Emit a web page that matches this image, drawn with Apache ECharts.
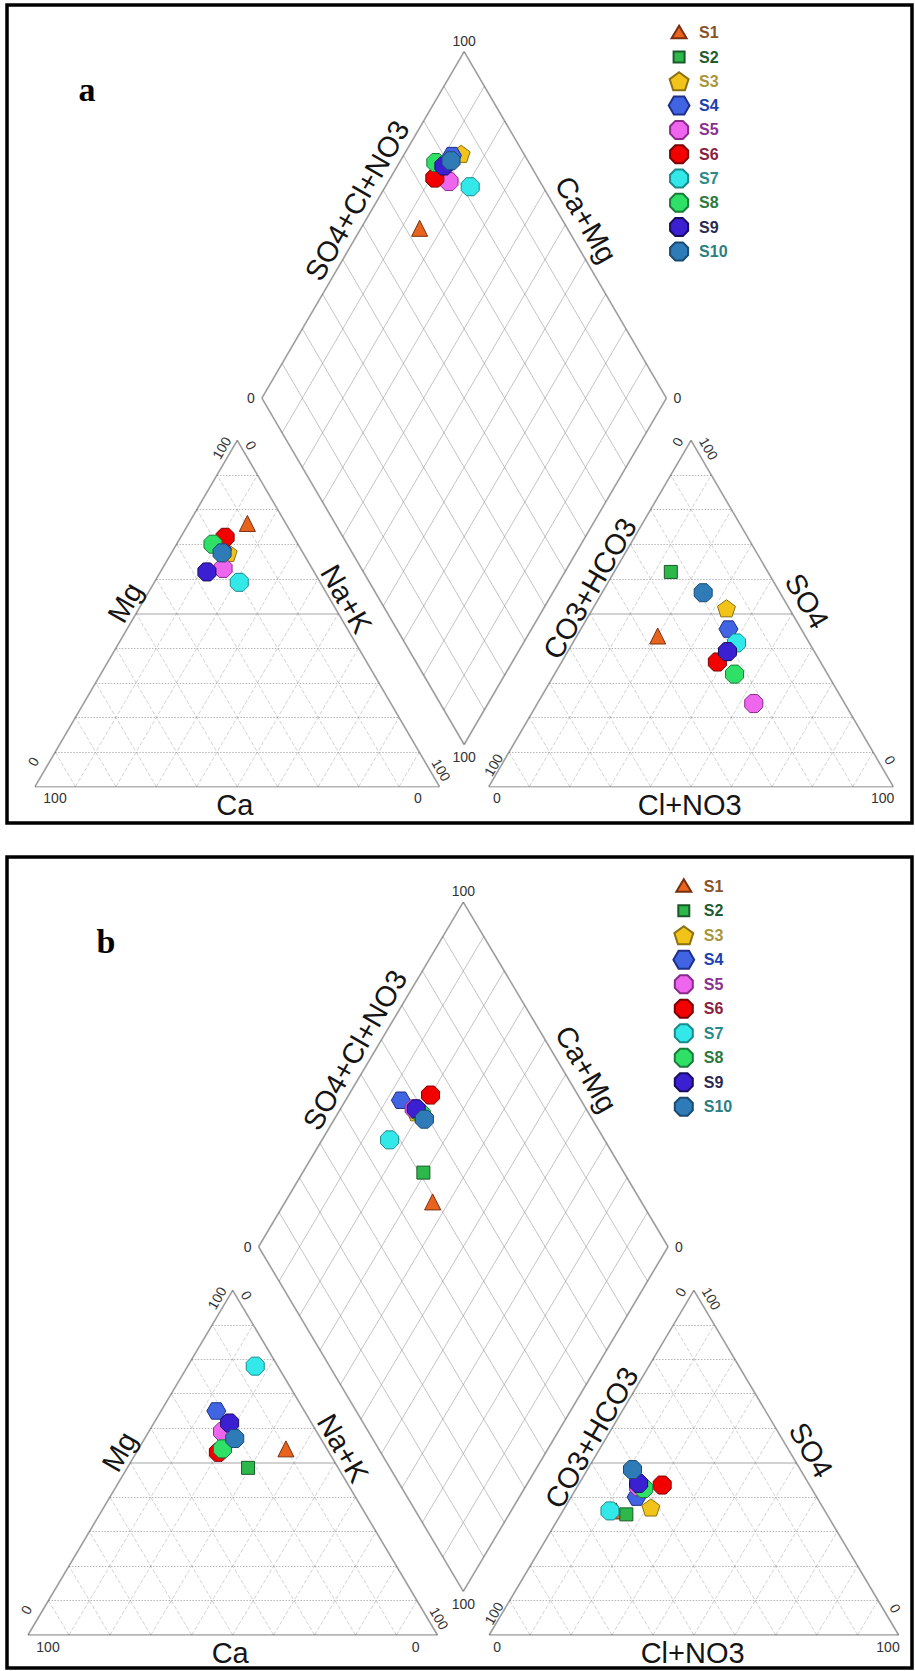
<!DOCTYPE html>
<html><head><meta charset="utf-8">
<script src="https://cdn.jsdelivr.net/npm/echarts@6/dist/echarts.min.js"></script>
<style>html,body{margin:0;padding:0;background:#fff}#c{width:915px;height:1671px}</style>
</head><body><div id="c"></div>
<script>
// ---------------- DATA ----------------
const samples = ['S1','S2','S3','S4','S5','S6','S7','S8','S9','S10'];
// Panel a – cations (% meq/L)
const aCa   = [9.5, 19, 18.5, 19.5, 22, 17, 20, 21, 26.5, 20];
const aMg   = [76, 69.5, 67.5, 68.5, 63, 72, 59, 70, 62, 67.5];
const aNaK  = [14.5, 11.5, 14, 12, 15, 11, 21, 9, 11.5, 12.5];
// Panel a – anions (% meq/L)
const aHCO3 = [36.5, 24, 15.5, 18, 22.5, 25.5, 18, 23, 21.5, 19];
const aSO4  = [43.5, 62, 51.5, 45.5, 24, 36, 41.5, 32.5, 39, 56];
const aCl   = [20, 14, 33, 36.5, 53.5, 38.5, 40.5, 44.5, 39.5, 25];
// Panel b – cations
const bCa   = [10, 22, 23, 21.5, 23, 27, 5.5, 25.5, 20, 21];
const bMg   = [54, 48.5, 58, 65, 59, 53, 78, 54, 61.5, 57];
const bNaK  = [36, 29.5, 19, 13.5, 18, 20, 16.5, 20.5, 18.5, 22];
// Panel b – anions
const bHCO3 = [51, 49, 42, 44, 42, 36, 52.5, 41, 41.5, 41];
const bSO4  = [36, 35, 37, 40, 43, 43.5, 36, 42.5, 44, 48];
const bCl   = [13, 16, 21, 16, 15, 20.5, 11.5, 16.5, 14.5, 11];
// Tick labels
const tickLo = '0', tickHi = '100';
const panelTags = ['a', 'b'];

// ---------------- STYLE ----------------
const fills   = ['#E8641E','#2DB84A','#F2C41A','#4165E2','#EE66EE','#F20000','#33E8E8','#2EE066','#3A20D0','#2E7BB8'];
const strokes = ['#7a3010','#1a5a2a','#8a7010','#1f2f8a','#8a2a8a','#7a0000','#1a8a8a','#1a7a3a','#180c60','#1a4a70'];
const txtCols = ['#8a5228','#1f5c2f','#a8963a','#2040b0','#8a3090','#8a2040','#2a8a8a','#2a7a40','#2a2a50','#2a8080'];
const octagon = 'path://M3.83,-9.24L9.24,-3.83L9.24,3.83L3.83,9.24L-3.83,9.24L-9.24,3.83L-9.24,-3.83L-3.83,-9.24Z';
const symbols = ['triangle','rect','path://M0,-10L9.51,-3.09L5.88,8.09L-5.88,8.09L-9.51,-3.09Z',
  'path://M-10,0L-5,-8.66L5,-8.66L10,0L5,8.66L-5,8.66Z', octagon, octagon, octagon, octagon, octagon, octagon];
const sizes = [16, 13, 18, 19, 18, 18, 18, 18, 18, 18];
// legend icons (padded so small shapes stay small)
const legIcons = ['path://M-9,-9M9,9M-7.5,5.5L7.5,5.5L0,-7Z','path://M-9,-9M9,9M-5.5,-5.5L5.5,-5.5L5.5,5.5L-5.5,5.5Z',
  symbols[2], symbols[3], octagon, octagon, octagon, octagon, octagon, octagon];

const panels = [
  {cat:[aCa,aMg,aNaK], an:[aHCO3,aSO4,aCl], g:12.19, left:35, width:858.3, base:786.7, ky:4.0,
   frame:[7,5,905,818], tagPos:[87,89], legX:682.7, legTop:22.7, legGap:4.3},
  {cat:[bCa,bMg,bNaK], an:[bHCO3,bSO4,bCl], g:12.65, left:28, width:870.6, base:1635, ky:3.98,
   frame:[7,857,905,811], tagPos:[106,941], legX:687.4, legTop:876.2, legGap:4.5}
];

const S60 = Math.sin(Math.PI/3);
const chart = echarts.init(document.getElementById('c'), null, {renderer:'svg', width:915, height:1671});

const grids=[], xAxes=[], yAxes=[], series=[], legends=[];
function seg(a,b){ return {coords:[a,b]}; }
function linesSeries(i, data, style, z){
  return {type:'lines', coordinateSystem:'cartesian2d', xAxisIndex:i, yAxisIndex:i, polyline:false,
          silent:true, z:z, lineStyle:style, data:data, animation:false};
}

panels.forEach((p, i) => {
  const g = p.g, T = 100*S60;
  const xMax = 200 + g, yMax = xMax*S60, h = yMax*p.ky;
  grids.push({left:p.left, top:p.base-h, width:p.width, height:h, outerBoundsMode:'none', containLabel:false});
  xAxes.push({type:'value', gridIndex:i, min:0, max:xMax, show:false});
  yAxes.push({type:'value', gridIndex:i, min:0, max:yMax, show:false});

  const outline=[], hDot=[], hMid=[], diag=[], dgrid=[];
  [0, 100+g].forEach(ox => {
    outline.push(seg([ox,0],[ox+100,0]), seg([ox+100,0],[ox+50,T]), seg([ox+50,T],[ox,0]));
    for (let k=1;k<10;k++){
      const t=k/10;
      const hs = seg([ox+50*t, T*t],[ox+100-50*t, T*t]);
      (k===5 ? hMid : hDot).push(hs);
      diag.push(seg([ox+100*t,0],[ox+50+50*t, T*(1-t)]));
      diag.push(seg([ox+100*(1-t),0],[ox+50*(1-t), T*(1-t)]));
    }
  });
  const B=[100+g/2, g*S60], R=[150+g/2,(100+g)*S60], L=[50+g/2,(100+g)*S60], Tp=[100+g/2,(200+g)*S60];
  outline.push(seg(B,R), seg(R,Tp), seg(Tp,L), seg(L,B));
  for (let k=1;k<10;k++){
    const t=k/10;
    const pu=[B[0]+50*t, B[1]+T*t]; dgrid.push(seg(pu,[pu[0]-50, pu[1]+T]));
    const pv=[B[0]-50*t, B[1]+T*t]; dgrid.push(seg(pv,[pv[0]+50, pv[1]+T]));
  }
  series.push(linesSeries(i, diag, {color:'#9c9c9c', width:0.9, type:[4,2]}, 1));
  series.push(linesSeries(i, hDot, {color:'#6e6e6e', width:1, type:[1.5,1.5]}, 2));
  series.push(linesSeries(i, hMid, {color:'#888', width:1.5, type:'solid'}, 2));
  series.push(linesSeries(i, dgrid, {color:'#8a8a8a', width:1, type:'solid'}, 2));
  series.push(linesSeries(i, outline, {color:'#3c3c3c', width:1.6, type:'solid'}, 3));

  const [Ca, Mg, NaK] = p.cat, [HCO3, SO4, Cl] = p.an;
  samples.forEach((name, s) => {
    const cat = [NaK[s] + Mg[s]/2, Mg[s]*S60];
    const an  = [100 + g + Cl[s] + SO4[s]/2, SO4[s]*S60];
    const u = (100 - HCO3[s])/100, v = (100 - NaK[s])/100;
    const dia = [B[0] + 50*(u - v), B[1] + T*(u + v)];
    series.push({type:'scatter', name:name, xAxisIndex:i, yAxisIndex:i, symbol:symbols[s], symbolSize:sizes[s],
      symbolKeepAspect:true, itemStyle:{color:fills[s], borderColor:strokes[s], borderWidth:1, opacity:1},
      data:[cat, an, dia], z:10+s, animation:false, silent:true});
  });

  legends.push({orient:'vertical', left:p.legX - 15, top:p.legTop, padding:0, itemWidth:30, itemHeight:18,
    itemGap:p.legGap, selectedMode:false,
    textStyle:{fontSize:16, fontWeight:'bold', fontFamily:'Liberation Sans', lineHeight:18},
    data:samples.map((n,s)=>({name:n, icon:legIcons[s],
      textStyle:{color:txtCols[s], fontSize:16, fontWeight:'bold', lineHeight:18}}))});
});

chart.setOption({backgroundColor:'#fff', animation:false, grid:grids, xAxis:xAxes, yAxis:yAxes, legend:legends, series:series});

// ---------------- TEXT ----------------
const tickDefs = [
  [tickHi,'dT',0,-11,0],[tickLo,'dL',-11,0,0],[tickLo,'dR',11,0,0],[tickHi,'dB',0,13,0],
  [tickHi,'cTop',-15.6,7.7,60],[tickLo,'cTop',13.7,5,-60],[tickLo,'cBL',-1.7,-25,60],[tickHi,'cBL',20,11.6,0],
  [tickHi,'cBR',1.7,-16.7,-60],[tickLo,'cBR',-21.7,11.6,0],
  [tickHi,'aBL',4.7,-21.7,60],[tickLo,'aBL',8,11.6,0],[tickLo,'aTop',-13.4,1.7,60],[tickHi,'aTop',17.6,8.4,-60],
  [tickLo,'aBR',-3.3,-26.7,-60],[tickHi,'aBR',-10.6,11.6,0]
];
const titleDefs = [
  ['Mg','cLm',-11,-11,60],['Na+K','cRm',8,-14.5,-60],['Ca','cBm',-2.5,18.3,0],
  ['CO3+HCO3','aLm',0,-25,60],['SO4','aRm',14.7,-12.5,-60],['Cl+NO3','aBm',-1.3,18.3,0],
  ['SO4+Cl+NO3','dULm',-5.9,-24.4,60],['Ca+Mg','dURm',20.6,-5.3,-60]
];
const gfx = [];
panels.forEach((p, i) => {
  const g = p.g, T = 100*S60;
  const mid = (a,b)=>[(a[0]+b[0])/2,(a[1]+b[1])/2];
  const V = {cBL:[0,0], cBR:[100,0], cTop:[50,T], aBL:[100+g,0], aBR:[200+g,0], aTop:[150+g,T],
             dB:[100+g/2,g*S60], dL:[50+g/2,(100+g)*S60], dR:[150+g/2,(100+g)*S60], dT:[100+g/2,(200+g)*S60]};
  V.cLm = mid(V.cBL,V.cTop); V.cRm = mid(V.cBR,V.cTop); V.cBm = mid(V.cBL,V.cBR);
  V.aLm = mid(V.aBL,V.aTop); V.aRm = mid(V.aBR,V.aTop); V.aBm = mid(V.aBL,V.aBR);
  V.dULm = mid(V.dL,V.dT); V.dURm = mid(V.dR,V.dT);
  const px = k => chart.convertToPixel({gridIndex:i}, V[k]);
  tickDefs.forEach(([t,k,dx,dy,r]) => {
    const q = px(k);
    gfx.push({type:'text', x:q[0]+dx, y:q[1]+dy, rotation:r*Math.PI/180, silent:true, z:100,
      style:{text:t, fill:'#333', fontSize:14, fontFamily:'Liberation Sans', align:'center', verticalAlign:'middle'}});
  });
  titleDefs.forEach(([t,k,dx,dy,r]) => {
    const q = px(k);
    gfx.push({type:'text', x:q[0]+dx, y:q[1]+dy, rotation:r*Math.PI/180, silent:true, z:100,
      style:{text:t, fill:'#151515', fontSize:29, fontFamily:'Liberation Sans', align:'center', verticalAlign:'middle'}});
  });
  gfx.push({type:'text', x:p.tagPos[0], y:p.tagPos[1], silent:true, z:100,
    style:{text:panelTags[i], fill:'#000', fontSize:34, fontWeight:'bold', fontFamily:'Liberation Serif', align:'center', verticalAlign:'middle'}});
  gfx.push({type:'rect', shape:{x:p.frame[0], y:p.frame[1], width:p.frame[2], height:p.frame[3]}, silent:true, z:100,
    style:{fill:'none', stroke:'#000', lineWidth:3.5}});
});
chart.setOption({graphic:gfx});
</script></body></html>
